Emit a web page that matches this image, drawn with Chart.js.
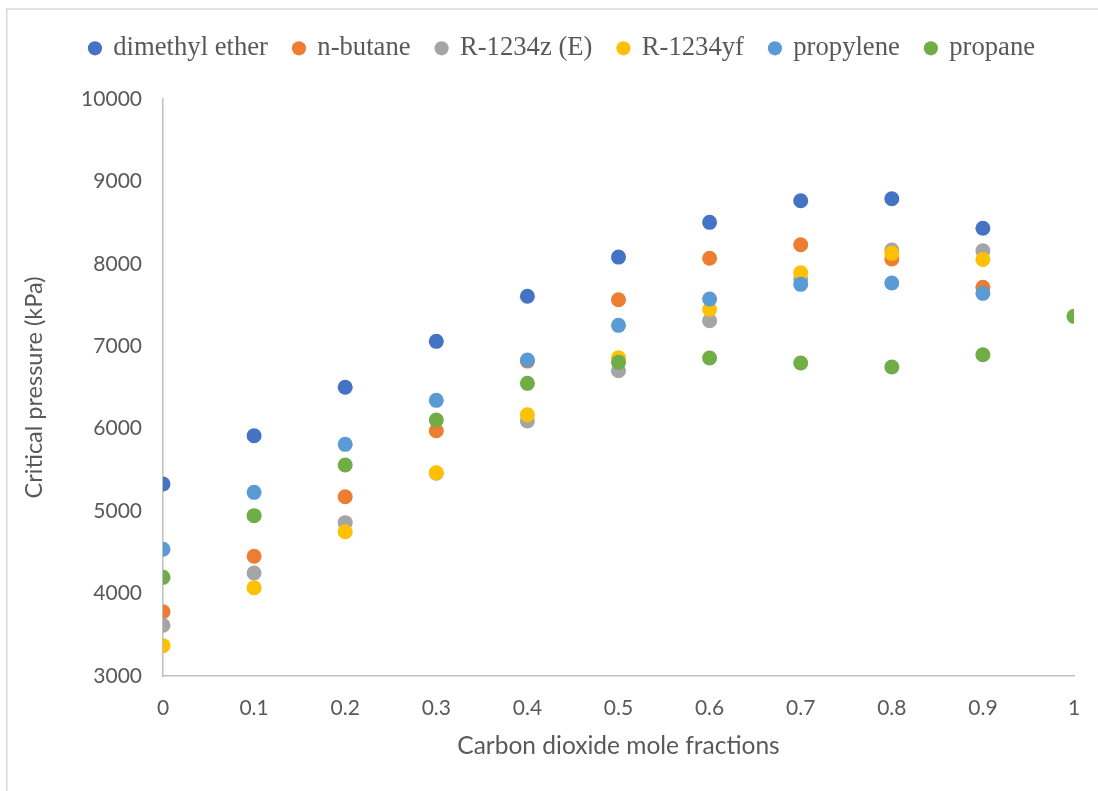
<!DOCTYPE html>
<html>
<head>
<meta charset="utf-8">
<title>Critical pressure vs CO2 mole fraction</title>
<script src="https://cdn.jsdelivr.net/npm/chart.js@4.4.1/dist/chart.umd.min.js"></script>
<style>
  html, body { margin: 0; padding: 0; background: #fff; }
  #wrap { width: 1098px; height: 791px; }
</style>
</head>
<body>
<div id="wrap"><canvas id="pcChart"></canvas></div>
<script>
// CO2 mole fraction in the binary mixture
const co2Fraction = [0, 0.1, 0.2, 0.3, 0.4, 0.5, 0.6, 0.7, 0.8, 0.9, 1];

// critical pressure (kPa) of each CO2 + refrigerant mixture
const dimethylEther = [5330, 5915, 6502, 7060, 7606, 8082, 8503, 8765, 8790, 8431];
const nButane       = [3780, 4452, 5175, 5976, 6820, 7565, 8067, 8232, 8058, 7715];
const r1234zE       = [3615, 4249, 4860, 5460, 6093, 6703, 7310, 7812, 8167, 8159];
const r1234yf       = [3368, 4071, 4750, 5466, 6170, 6861, 7448, 7892, 8127, 8054];
const propylene     = [4537, 5228, 5810, 6344, 6833, 7254, 7573, 7751, 7767, 7642];
const propane       = [4197, 4945, 5559, 6105, 6550, 6805, 6857, 6797, 6748, 6897, 7363];

const seriesNames  = ['dimethyl ether', 'n-butane', 'R-1234z (E)', 'R-1234yf', 'propylene', 'propane'];
const seriesValues = [dimethylEther, nButane, r1234zE, r1234yf, propylene, propane];
const seriesColors = ['#4472C4', '#ED7D31', '#A5A5A5', '#FFC000', '#5B9BD5', '#70AD47'];

const toPoints = vals => vals.map((v, i) => ({ x: co2Fraction[i], y: v }));

// later series are painted on top (propane last)
const datasets = seriesNames.map((name, i) => ({
  label: name,
  data: toPoints(seriesValues[i]),
  backgroundColor: seriesColors[i],
  borderColor: seriesColors[i],
  borderWidth: 0,
  pointRadius: 7.5,
  pointHoverRadius: 7.5,
  order: seriesNames.length - i
}));

// light frame round the chart
const frame = {
  id: 'frame',
  beforeDraw(chart) {
    const c = chart.ctx;
    c.save();
    c.fillStyle = '#fff';
    c.fillRect(0, 0, chart.width, chart.height);
    c.strokeStyle = '#D9D9D9';
    c.lineWidth = 1.5;
    c.strokeRect(6.75, 9, chart.width + 20, chart.height + 20);
    c.restore();
  }
};

const axisGrey = '#595959';

new Chart(document.getElementById('pcChart'), {
  type: 'scatter',
  data: { datasets },
  plugins: [frame],
  options: {
    responsive: true,
    maintainAspectRatio: false,
    devicePixelRatio: 1,
    animation: false,
    layout: { padding: { top: 9, left: 51, right: 24, bottom: 0 } },
    plugins: {
      tooltip: { enabled: false },
      legend: {
        position: 'top',
        labels: {
          usePointStyle: true,
          pointStyle: 'circle',
          boxWidth: 10,
          boxHeight: 10,
          padding: 26,
          color: axisGrey,
          font: { family: '"Liberation Serif", "Times New Roman", serif', size: 26.67 },
          sort: (a, b) => a.datasetIndex - b.datasetIndex
        }
      },
      // empty spacer between legend and plot
      subtitle: {
        display: true,
        text: '',
        weight: 500,
        font: { size: 10 },
        padding: { top: 0, bottom: 15.3 }
      }
    },
    scales: {
      x: {
        type: 'linear',
        min: 0,
        max: 1,
        // no visible grid; tickLength just pushes the labels down
        grid: { display: false, drawTicks: true, tickLength: 17 },
        border: { display: true, color: '#BFBFBF', width: 1.5 },
        ticks: {
          stepSize: 0.1,
          padding: 3,
          color: axisGrey,
          font: { family: 'Lato', size: 21 },
          callback: v => String(Math.round(v * 10) / 10)
        },
        title: {
          display: true,
          text: 'Carbon dioxide mole fractions',
          color: axisGrey,
          font: { family: 'Lato', size: 24.5 },
          padding: { top: 0, bottom: 30 }
        },
        afterFit: s => { s.height = 115; }
      },
      y: {
        type: 'linear',
        min: 3000,
        max: 10000,
        grid: { display: false, drawTicks: false },
        border: { display: true, color: '#BFBFBF', width: 1.5 },
        ticks: {
          stepSize: 1000,
          padding: 21,
          color: axisGrey,
          font: { family: 'Lato', size: 21 },
          callback: v => String(v)
        },
        title: {
          display: true,
          text: 'Critical pressure (kPa)',
          color: axisGrey,
          font: { family: 'Lato', size: 23.5 },
          padding: { top: -31, bottom: 0 }
        },
        afterFit: s => { s.width = 112; }
      }
    }
  }
});
</script>
</body>
</html>
